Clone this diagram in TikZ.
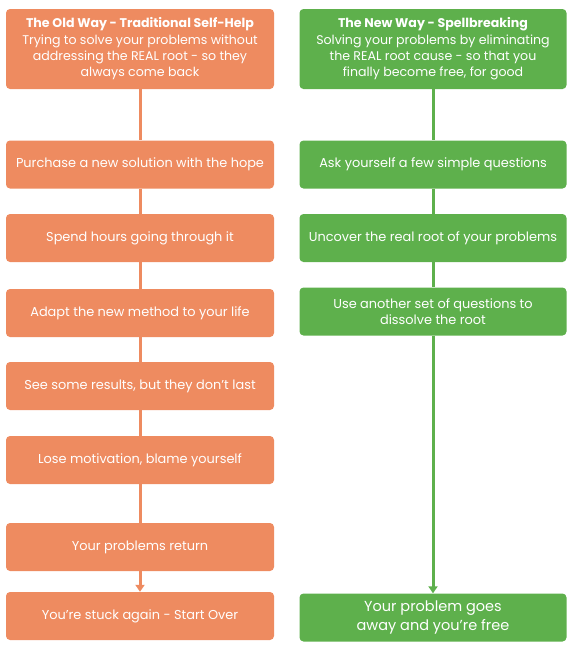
\documentclass[tikz,border=0pt]{standalone}
\usepackage{fontspec}
\setmainfont{Poppins}
\usetikzlibrary{arrows.meta}
\definecolor{oldc}{RGB}{238,139,96}
\definecolor{newc}{RGB}{94,176,76}
\tikzset{
  stepbox/.style={rectangle, rounded corners=4pt, text=white, align=center, inner sep=2pt, font=\fontsize{12.9}{15.6}\selectfont},
  oldbox/.style={stepbox, fill=oldc, minimum width=268pt, minimum height=48pt},
  newbox/.style={stepbox, fill=newc, minimum width=267pt, minimum height=48pt},
  oldline/.style={draw=oldc, line width=3pt},
  newline/.style={draw=newc, line width=3pt},
  tip/.style={-{Triangle[width=9pt,length=7pt]}}
}
\begin{document}
\begin{tikzpicture}[x=1pt,y=-1pt]
\useasboundingbox (0,0) rectangle (579,654);
% headers
\node[oldbox, minimum height=80pt, font=\fontsize{12.6}{16.3}\selectfont] (ho) at (140,49) {{\bfseries The Old Way - Traditional Self-Help}\\Trying to solve your problems without\\addressing the REAL root - so they\\always come back};
\node[newbox, minimum height=80pt, font=\fontsize{12.6}{16.3}\selectfont] (hn) at (433,49) {{\bfseries The New Way - Spellbreaking}\\Solving your problems by eliminating\\the REAL root cause - so that you\\finally become free, for good};
% left column
\node[oldbox] (o1) at (140,164.5) {Purchase a new solution with the hope};
\node[oldbox] (o2) at (140,238) {Spend hours going through it};
\node[oldbox] (o3) at (140,313) {Adapt the new method to your life};
\node[oldbox] (o4) at (140,386) {See some results, but they don't last};
\node[oldbox] (o5) at (140,460) {Lose motivation, blame yourself};
\node[oldbox] (o6) at (140,547) {Your problems return};
\node[oldbox] (o7) at (140,616) {You're stuck again - Start Over};
% right column
\node[newbox] (n1) at (433,164.5) {Ask yourself a few simple questions};
\node[newbox] (n2) at (433,238) {Uncover the real root of your problems};
\node[newbox] (n3) at (433,311.5) {Use another set of questions to\\dissolve the root};
\node[newbox, font=\fontsize{14.5}{19.5}\selectfont] (n4) at (433,617.5) {Your problem goes\\away and you're free};
% connectors
\draw[oldline] (ho.south) -- (o1.north);
\draw[oldline] (o1.south) -- (o2.north);
\draw[oldline] (o2.south) -- (o3.north);
\draw[oldline] (o3.south) -- (o4.north);
\draw[oldline] (o4.south) -- (o5.north);
\draw[oldline] (o5.south) -- (o6.north);
\draw[oldline, tip] (o6.south) -- (o7.north);
\draw[newline] (hn.south) -- (n1.north);
\draw[newline] (n1.south) -- (n2.north);
\draw[newline] (n2.south) -- (n3.north);
\draw[newline, tip] (n3.south) -- (n4.north);
\end{tikzpicture}
\end{document}
